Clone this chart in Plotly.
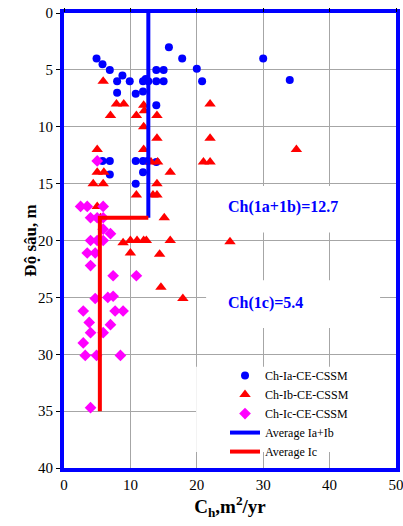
import plotly.graph_objects as go

# ---- data ----
ia_x = [4.9, 5.8, 6.9, 8.8, 8.0, 9.9, 8.0, 10.8, 11.9, 11.9, 12.3, 12.7, 13.9, 15.0, 13.9, 15.0, 13.9,
        15.8, 17.8, 20.0, 20.8, 30.0, 34.0, 5.8, 6.9, 6.9, 10.8, 11.9, 13.9, 11.9, 10.8, 12.6]
ia_y = [4.0, 4.5, 5.0, 5.5, 6.0, 6.0, 7.0, 7.1, 6.9, 6.0, 5.8, 6.0, 5.0, 5.0, 6.0, 6.0, 8.1,
        3.0, 4.0, 4.9, 6.0, 4.0, 5.9, 13.0, 13.0, 14.2, 13.0, 13.0, 13.1, 14.0, 15.0, 13.0]

ib_x = [5.9, 7.9, 9.0, 7.0, 10.9, 12.0, 12.1, 14.0, 12.0, 14.0, 12.0, 5.0, 13.1, 14.1, 16.0, 5.0, 6.0,
        4.4, 5.9, 10.9, 14.0, 13.4, 14.0, 22.0, 22.0, 21.0, 22.0, 35.0, 5.0, 15.1, 5.5, 8.9, 10.0,
        11.0, 12.0, 12.4, 16.0, 10.0, 14.4, 14.6, 17.9, 25.0, 5.2]
ib_y = [6.0, 8.0, 8.0, 9.0, 9.0, 8.1, 8.6, 9.0, 10.0, 11.0, 12.0, 12.0, 13.1, 13.1, 14.0, 14.0, 14.0,
        15.0, 15.0, 16.0, 15.0, 16.0, 16.0, 8.0, 11.0, 13.1, 13.1, 12.0, 17.0, 18.0, 18.0, 20.2, 20.0,
        20.0, 20.0, 20.0, 20.0, 21.1, 21.2, 24.1, 25.1, 20.1, 20.0]

ic_x = [5.0, 2.5, 3.5, 5.9, 4.0, 5.0, 5.9, 5.9, 7.0, 4.0, 5.0, 5.9, 3.5, 4.7, 4.0, 7.4, 10.9, 4.7,
        6.6, 7.4, 2.9, 7.7, 8.9, 3.8, 7.0, 4.0, 5.9, 2.9, 3.2, 4.9, 8.5, 4.0]
ic_y = [13.0, 17.0, 17.0, 17.0, 18.0, 18.0, 18.0, 19.0, 19.4, 20.0, 20.0, 20.0, 21.1, 21.1, 22.2, 23.1,
        23.1, 25.1, 25.0, 24.9, 26.2, 26.2, 26.2, 27.2, 27.4, 28.1, 28.1, 29.0, 30.1, 30.1, 30.1, 34.7]

avg_ab_x = [12.7, 12.7]
avg_ab_y = [0, 18]
avg_c_x = [12.7, 5.4, 5.4]
avg_c_y = [18, 18, 35]

x_ticks = [0, 10, 20, 30, 40, 50]
y_ticks = [0, 5, 10, 15, 20, 25, 30, 35, 40]

SERIF = "Liberation Serif"

fig = go.Figure()
fig.add_trace(go.Scatter(x=ia_x, y=ia_y, mode="markers", name="Ch-Ia-CE-CSSM",
                         marker=dict(symbol="circle", size=8, color="#0000ff")))
fig.add_trace(go.Scatter(x=ib_x, y=ib_y, mode="markers", name="Ch-Ib-CE-CSSM",
                         marker=dict(symbol="triangle-up", size=10, color="#ff0000")))
fig.add_trace(go.Scatter(x=ic_x, y=ic_y, mode="markers", name="Ch-Ic-CE-CSSM",
                         marker=dict(symbol="diamond", size=9, color="#ff00ff")))
fig.add_trace(go.Scatter(x=avg_ab_x, y=avg_ab_y, mode="lines", name="Average Ia+Ib",
                         line=dict(color="#0000ff", width=4)))
fig.add_trace(go.Scatter(x=avg_c_x, y=avg_c_y, mode="lines", name="Average Ic",
                         line=dict(color="#ff0000", width=4)))
# invisible trace to activate the top tick axis
fig.add_trace(go.Scatter(x=[0], y=[0], xaxis="x2", mode="markers", marker=dict(opacity=0),
                         showlegend=False, hoverinfo="skip"))

# white boxes hiding gridlines behind texts and legend
for (x0, x1, y0, y1) in [(21.4, 45.6, 15.2, 19.3), (21.4, 47.6, 23.5, 27.7), (19.9, 50, 31.1, 38.6)]:
    fig.add_shape(type="rect", xref="x", yref="y", x0=x0, x1=x1, y0=y0, y1=y1,
                  fillcolor="white", line=dict(width=0), layer="between")

fig.add_annotation(x=24.4, y=17.05, xref="x", yref="y", xanchor="left", yanchor="middle",
                   text="<b>Ch(1a+1b)=12.7</b>", showarrow=False,
                   font=dict(family=SERIF, size=16, color="#0000ff"))
fig.add_annotation(x=24.4, y=25.5, xref="x", yref="y", xanchor="left", yanchor="middle",
                   text="<b>Ch(1c)=5.4</b>", showarrow=False,
                   font=dict(family=SERIF, size=16, color="#0000ff"))
# y-axis title
fig.add_annotation(x=-0.102, y=0.5, xref="paper", yref="paper", xanchor="center", yanchor="middle",
                   text="<b>Độ sâu, m</b>", textangle=-90, showarrow=False,
                   font=dict(family=SERIF, size=17, color="black"))

fig.update_layout(
    width=403, height=526,
    margin=dict(l=64, r=7, t=13, b=58),
    paper_bgcolor="white", plot_bgcolor="white",
    font=dict(family=SERIF, size=14, color="black"),
    showlegend=True,
    legend=dict(x=0.485, y=0.235, xanchor="left", yanchor="top",
                bgcolor="rgba(0,0,0,0)", font=dict(family=SERIF, size=12, color="black"),
                tracegroupgap=0, itemsizing="trace"),
    xaxis=dict(range=[0, 50], tickvals=x_ticks, ticktext=[str(v) for v in x_ticks],
               showgrid=True, gridcolor="#a6a6a6", gridwidth=1, zeroline=False,
               showline=True, linecolor="#0000ff", linewidth=4, mirror=True,
               ticks="", tickfont=dict(family=SERIF, size=15), automargin=False,
               ticklabeloverflow="allow",
               title=dict(text="<b>C<sub>h</sub>,m<sup>2</sup>/yr</b>", font=dict(family=SERIF, size=19),
                          standoff=2)),
    xaxis2=dict(range=[0, 50], overlaying="x", side="top", tickvals=x_ticks, showticklabels=False,
                ticks="outside", ticklen=4, tickcolor="black", showgrid=False, zeroline=False,
                showline=False, automargin=False),
    yaxis=dict(range=[40, 0], tickvals=y_ticks, ticktext=[str(v) for v in y_ticks],
               showgrid=True, gridcolor="#a6a6a6", gridwidth=1, zeroline=False,
               showline=True, linecolor="#0000ff", linewidth=4, mirror=True, automargin=False,
               ticks="outside", ticklen=4, tickcolor="black", tickfont=dict(family=SERIF, size=15),
               ticklabeloverflow="allow"),
)

fig.write_html("out.html", config={"displayModeBar": False},
               post_script="document.body.style.margin='0';document.body.style.padding='0';")
